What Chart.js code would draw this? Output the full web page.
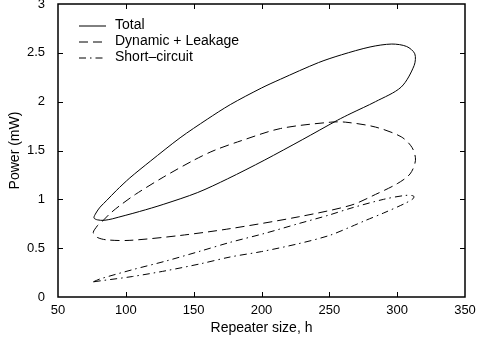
<!DOCTYPE html>
<html>
<head>
<meta charset="utf-8">
<script src="https://cdn.jsdelivr.net/npm/chart.js@4.4.1/dist/chart.umd.min.js"></script>
<style>
  html, body { margin: 0; padding: 0; background: #fff; }
</style>
</head>
<body>
<canvas id="powerChart" width="477" height="342"></canvas>
<script>
'use strict';

// each curve is a closed loop: repeater size h on x, power in mW on y
let totalSize = [90, 84, 79, 76.5, 78, 81, 86, 93, 103, 118, 140, 160, 177, 200, 214, 242, 259, 280, 296, 307, 313, 312.5, 303, 284, 266, 256, 230, 202, 175, 153, 128, 110, 90];
let totalPower = [0.80, 0.785, 0.79, 0.81, 0.86, 0.92, 0.99, 1.09, 1.22, 1.39, 1.63, 1.82, 1.97, 2.14, 2.23, 2.40, 2.48, 2.56, 2.59, 2.565, 2.49, 2.37, 2.15, 2.00, 1.88, 1.81, 1.61, 1.40, 1.21, 1.07, 0.95, 0.875, 0.80];

let dynSize = [79, 76, 79, 86, 103, 140, 177, 227, 266, 284, 300, 309.5, 313.5, 311, 303, 284, 262, 251, 214, 185, 165, 150, 128, 107, 95, 88, 83, 79];
let dynPower = [0.73, 0.66, 0.61, 0.585, 0.58, 0.63, 0.70, 0.82, 0.94, 1.05, 1.16, 1.26, 1.40, 1.53, 1.64, 1.74, 1.79, 1.79, 1.725, 1.60, 1.50, 1.40, 1.23, 1.05, 0.93, 0.85, 0.78, 0.73];

let scSize = [76, 81, 105, 130, 155, 177, 202, 227, 250, 266, 290, 306, 312, 312, 306, 290, 276, 266, 250, 227, 200, 177, 155, 130, 105, 81, 76];
let scPower = [0.155, 0.185, 0.28, 0.37, 0.47, 0.56, 0.65, 0.75, 0.84, 0.91, 1.00, 1.04, 1.035, 1.01, 0.96, 0.86, 0.78, 0.72, 0.63, 0.545, 0.465, 0.41, 0.34, 0.27, 0.21, 0.165, 0.155];

let seriesNames = ['Total', 'Dynamic + Leakage', 'Short\u2013circuit'];
let xTicks = [50, 100, 150, 200, 250, 300, 350];
let yTickLabels = ['0', '0.5', '1', '1.5', '2', '2.5', '3'];

const fontFamily = '"Liberation Sans", Arial, Helvetica, sans-serif';

function toPoints(xs, ys) {
  let pts = [];
  for (let i = 0; i < xs.length; i++) {
    pts.push({ x: xs[i], y: ys[i] });
  }
  return pts;
}

function lineSet(label, xs, ys, dash) {
  return {
    label: label,
    data: toPoints(xs, ys),
    showLine: true,
    borderColor: '#000',
    borderWidth: 1,
    borderDash: dash,
    pointRadius: 0,
    tension: 0.3,
    fill: false
  };
}

// box round the plot with MATLAB-style inward ticks on all four sides
const frame = {
  id: 'frame',
  afterDatasetsDraw(chart) {
    const ctx = chart.ctx;
    const a = chart.chartArea;
    const xs = chart.scales.x;
    const ys = chart.scales.y;
    const len = 5;
    ctx.save();
    ctx.strokeStyle = '#000';
    ctx.lineWidth = 1.5;
    ctx.setLineDash([]);
    ctx.strokeRect(a.left, a.top, a.right - a.left, a.bottom - a.top);
    ctx.lineWidth = 1;
    ctx.beginPath();
    for (let i = 1; i < xTicks.length - 1; i++) {
      let px = Math.round(xs.getPixelForValue(xTicks[i])) + 0.5;
      ctx.moveTo(px, a.bottom);
      ctx.lineTo(px, a.bottom - len);
      ctx.moveTo(px, a.top);
      ctx.lineTo(px, a.top + len);
    }
    for (let i = 1; i < yTickLabels.length - 1; i++) {
      let py = Math.round(ys.getPixelForValue(parseFloat(yTickLabels[i]))) + 0.5;
      ctx.moveTo(a.left, py);
      ctx.lineTo(a.left + len, py);
      ctx.moveTo(a.right, py);
      ctx.lineTo(a.right - len, py);
    }
    ctx.stroke();
    ctx.restore();
  }
};

// legend in the upper left corner of the axes
const cornerLegend = {
  id: 'cornerLegend',
  afterDraw(chart) {
    const ctx = chart.ctx;
    const a = chart.chartArea;
    ctx.save();
    ctx.font = '14px ' + fontFamily;
    ctx.fillStyle = '#000';
    ctx.textBaseline = 'middle';
    chart.data.datasets.forEach(function (ds, i) {
      let y = a.top + 21.5 + i * 16;
      ctx.strokeStyle = '#000';
      ctx.lineWidth = 1;
      ctx.setLineDash(ds.borderDash || []);
      ctx.beginPath();
      ctx.moveTo(a.left + 21, y + 0.5);
      ctx.lineTo(a.left + 48, y + 0.5);
      ctx.stroke();
      ctx.setLineDash([]);
      ctx.fillText(ds.label, a.left + 57, y);
    });
    ctx.restore();
  }
};

let ctx = document.getElementById('powerChart').getContext('2d');
let powerChart = new Chart(ctx, {
  type: 'scatter',
  data: {
    datasets: [
      lineSet(seriesNames[0], totalSize, totalPower, []),
      lineSet(seriesNames[1], dynSize, dynPower, [9, 5]),
      lineSet(seriesNames[2], scSize, scPower, [7, 4, 1.5, 4])
    ]
  },
  options: {
    responsive: false,
    animation: false,
    devicePixelRatio: 1,
    layout: { padding: { top: 4, right: 12, bottom: 0, left: 0 } },
    plugins: {
      legend: { display: false },
      tooltip: { enabled: false }
    },
    scales: {
      x: {
        type: 'linear',
        min: 50,
        max: 350,
        grid: { display: false },
        border: { display: false },
        ticks: {
          stepSize: 50,
          color: '#000',
          padding: -2,
          font: { family: fontFamily, size: 13 }
        },
        title: {
          display: true,
          text: 'Repeater size, h',
          color: '#000',
          font: { family: fontFamily, size: 14 },
          padding: { top: 0, bottom: 5 }
        },
        afterFit(scale) {
          scale.height = 45;
          scale.paddingLeft = 0;
          scale.paddingRight = 0;
        }
      },
      y: {
        type: 'linear',
        min: 0,
        max: 3,
        grid: { display: false },
        border: { display: false },
        ticks: {
          stepSize: 0.5,
          color: '#000',
          padding: 5,
          font: { family: fontFamily, size: 13 },
          callback: function (value, index) {
            return yTickLabels[index];
          }
        },
        title: {
          display: true,
          text: 'Power (mW)',
          color: '#000',
          font: { family: fontFamily, size: 14 },
          padding: { top: 6.6, bottom: 0 }
        },
        afterFit(scale) {
          scale.width = 58;
          scale.paddingTop = 0;
          scale.paddingBottom = 0;
        }
      }
    }
  },
  plugins: [frame, cornerLegend]
});
</script>
</body>
</html>
